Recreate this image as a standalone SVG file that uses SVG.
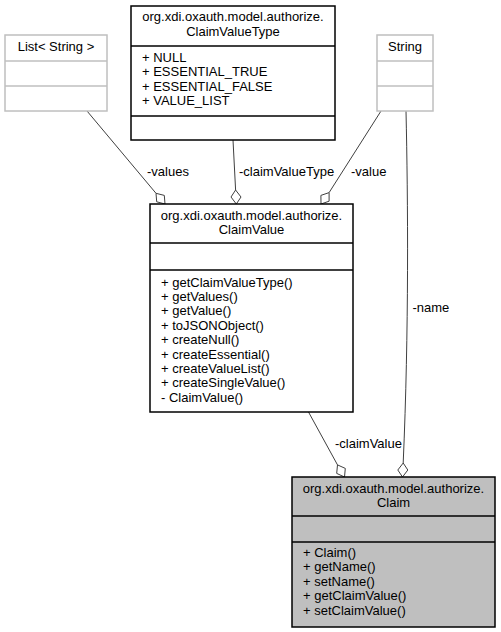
<svg xmlns="http://www.w3.org/2000/svg" width="501" height="632" viewBox="0 0 501 632">
<style>
text{font-family:"Liberation Sans",Arial,sans-serif;font-size:13px;fill:#000}
.t{text-anchor:middle}
.box{fill:#fff;stroke:#000;stroke-width:1.5}
.gbox{fill:#fff;stroke:#bfbfbf;stroke-width:1.5}
.cur{fill:#bfbfbf;stroke:#000;stroke-width:1.5}
.sep{stroke:#000;stroke-width:1.5}
.gsep{stroke:#bfbfbf;stroke-width:1.5}
.e{fill:none;stroke:#404040;stroke-width:1}
.d{fill:#fff;stroke:#404040;stroke-width:1}
</style>
<rect width="501" height="632" fill="#fff"/>
<g id="connectors">
<path class="e" d="M87,111 L156,193.3"/>
<polygon class="d" points="165,204 164.3,195.4 156,193.3 156.7,201.8"/>
<path class="e" d="M233,140 L235.6,190"/>
<polygon class="d" points="236.3,204 241,197 235.6,190 231,197"/>
<path class="e" d="M381,111 L329.1,192.6"/>
<polygon class="d" points="321,204 329.1,201.2 329.1,192.6 320.9,195.4"/>
<path class="e" d="M406,111 C408,200 409,330 403.2,463"/>
<polygon class="d" points="402.5,477 407.8,470 403.2,463 397.8,470"/>
<path class="e" d="M308.5,412 L337.5,464.9"/>
<polygon class="d" points="344.5,477 345.3,468.4 337.5,464.9 336.7,473.4"/>
<text x="147" y="176">-values</text>
<text x="239" y="176">-claimValueType</text>
<text x="351" y="176">-value</text>
<text x="412.5" y="312">-name</text>
<text x="335" y="448">-claimValue</text>
</g>
<g id="ListString">
<rect class="gbox" x="5" y="35" width="102" height="76"/>
<line class="gsep" x1="5" y1="61" x2="107" y2="61"/>
<line class="gsep" x1="5" y1="86" x2="107" y2="86"/>
<text class="t" x="56" y="50.5">List&lt; String &gt;</text>
</g>
<g id="String">
<rect class="gbox" x="377" y="35" width="56" height="76"/>
<line class="gsep" x1="377" y1="61" x2="433" y2="61"/>
<line class="gsep" x1="377" y1="86" x2="433" y2="86"/>
<text class="t" x="405" y="50.5">String</text>
</g>
<g id="ClaimValueType">
<rect class="box" x="131" y="6" width="204" height="134"/>
<line class="sep" x1="131" y1="46" x2="335" y2="46"/>
<line class="sep" x1="131" y1="116" x2="335" y2="116"/>
<text class="t" x="233" y="21">org.xdi.oxauth.model.authorize.</text>
<text class="t" x="233" y="35.5">ClaimValueType</text>
<text x="142" y="62">+ NULL</text>
<text x="142" y="76.4">+ ESSENTIAL_TRUE</text>
<text x="142" y="90.8">+ ESSENTIAL_FALSE</text>
<text x="142" y="105.2">+ VALUE_LIST</text>
</g>
<g id="ClaimValue">
<rect class="box" x="150" y="204" width="203" height="208"/>
<line class="sep" x1="150" y1="243" x2="353" y2="243"/>
<line class="sep" x1="150" y1="270" x2="353" y2="270"/>
<text class="t" x="251.5" y="220">org.xdi.oxauth.model.authorize.</text>
<text class="t" x="251.5" y="234.4">ClaimValue</text>
<text x="161" y="286.5">+ getClaimValueType()</text>
<text x="161" y="300.9">+ getValues()</text>
<text x="161" y="315.3">+ getValue()</text>
<text x="161" y="329.7">+ toJSONObject()</text>
<text x="161" y="344.1">+ createNull()</text>
<text x="161" y="358.5">+ createEssential()</text>
<text x="161" y="372.9">+ createValueList()</text>
<text x="161" y="387.3">+ createSingleValue()</text>
<text x="161" y="401.7">- ClaimValue()</text>
</g>
<g id="Claim">
<rect class="cur" x="292" y="477" width="203" height="150"/>
<line class="sep" x1="292" y1="516" x2="495" y2="516"/>
<line class="sep" x1="292" y1="542" x2="495" y2="542"/>
<text class="t" x="393.5" y="493">org.xdi.oxauth.model.authorize.</text>
<text class="t" x="393.5" y="507.4">Claim</text>
<text x="303" y="557">+ Claim()</text>
<text x="303" y="571.4">+ getName()</text>
<text x="303" y="585.8">+ setName()</text>
<text x="303" y="600.2">+ getClaimValue()</text>
<text x="303" y="614.6">+ setClaimValue()</text>
</g>
</svg>
